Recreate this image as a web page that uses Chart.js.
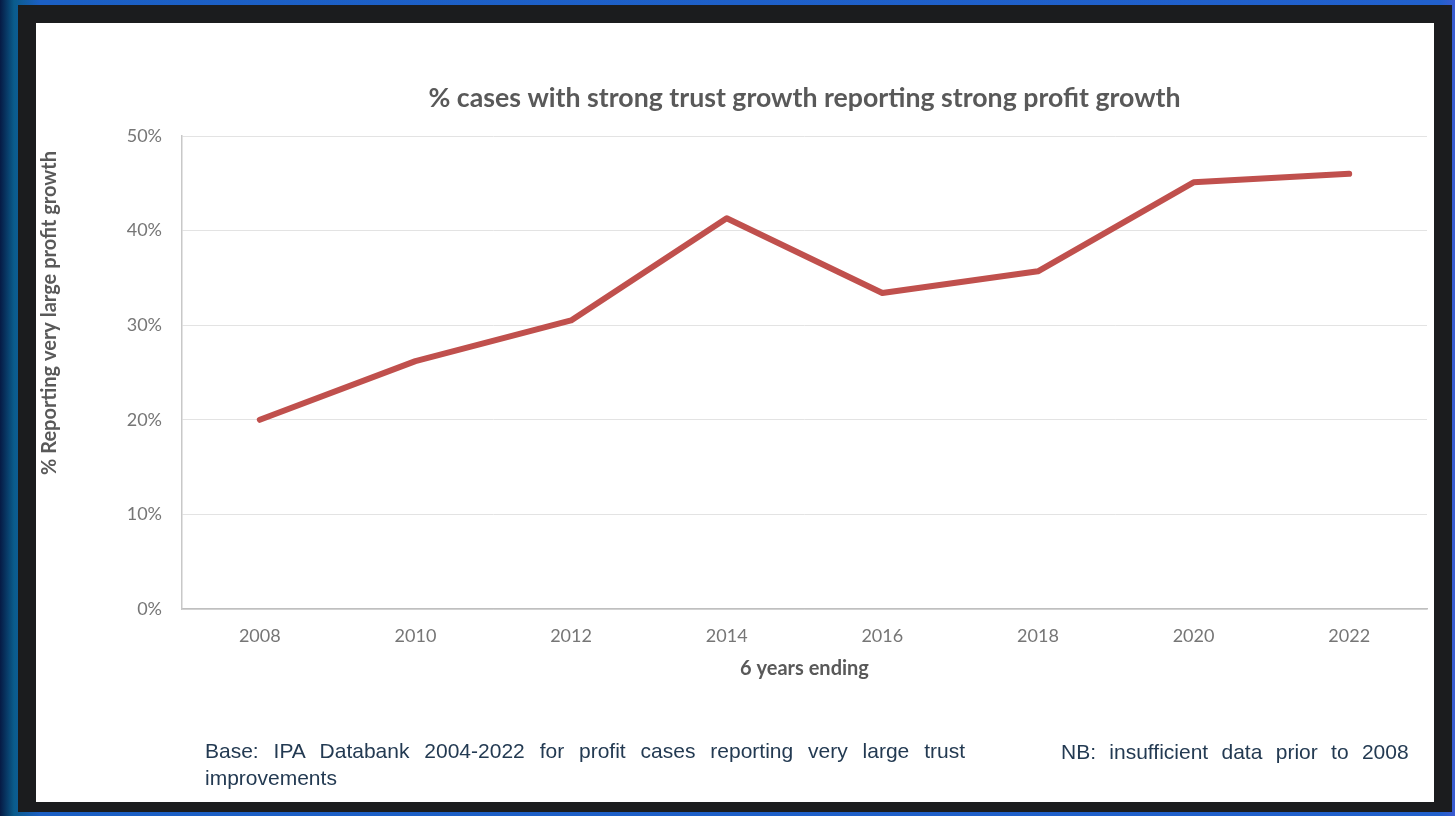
<!DOCTYPE html>
<html>
<head>
<meta charset="utf-8">
<script src="https://cdn.jsdelivr.net/npm/chart.js@4.4.0/dist/chart.umd.min.js"></script>
<style>
  html, body { margin: 0; padding: 0; }
  body {
    width: 1455px; height: 816px; overflow: hidden; position: relative;
    background: linear-gradient(to right, #061a44 0px, #0a5c8c 14px, #1b5fc4 40px, #2160cc 1440px, #3a5ad0 1455px);
  }
  #frame {
    position: absolute; left: 18px; top: 5px; width: 1434px; height: 807px;
    background: #1b1c1e;
  }
  #panel {
    position: absolute; left: 36px; top: 23px; width: 1398px; height: 779px;
    background: #ffffff;
  }
  #panel canvas { position: absolute; left: 0; top: 0; }
  .note {
    position: absolute; font-family: "Liberation Sans", Arial, sans-serif;
    font-size: 21px; color: #233a52; line-height: 27px; white-space: normal;
  }
  #base { left: 169px; top: 714px; width: 760px; text-align: justify; }
  #nb { left: 1025px; top: 715px; word-spacing: 7.5px; }
</style>
</head>
<body>
<div id="frame"></div>
<div id="panel">
  <canvas id="myChart" width="1398" height="779"></canvas>
  <div class="note" id="base">Base: IPA Databank 2004-2022 for profit cases reporting very large trust improvements</div>
  <div class="note" id="nb">NB: insufficient data prior to 2008</div>
</div>
<script>
var years = ['2008', '2010', '2012', '2014', '2016', '2018', '2020', '2022'];
var strongProfit = [20.0, 26.2, 30.5, 41.3, 33.4, 35.7, 45.1, 46.0];
var yTicks = [0, 10, 20, 30, 40, 50];

var chartTitle = '% cases with strong trust growth reporting strong profit growth';
var xTitle = '6 years ending';
var yTitle = '% Reporting very large profit growth';

// titles drawn by hand: the original centres them on the plot, not the canvas
var titlesPlugin = {
  id: 'titles',
  afterDraw: function (chart) {
    var c = chart.ctx;
    var a = chart.chartArea;
    var mid = (a.left + a.right) / 2;
    c.save();
    c.fillStyle = '#595959';
    c.textAlign = 'center';
    c.textBaseline = 'middle';
    c.font = 'bold 26.7px Lato';
    c.fillText(chartTitle, mid, 75);
    c.font = 'bold 20px Lato';
    c.fillText(xTitle, mid, 646);
    c.translate(14, 290);
    c.rotate(-Math.PI / 2);
    c.fillText(yTitle, 0, 0);
    c.restore();
  }
};

var ctx = document.getElementById('myChart');
var myChart = new Chart(ctx, {
  type: 'line',
  data: {
    labels: years,
    datasets: [{
      label: 'Strong profit growth',
      data: strongProfit,
      borderColor: '#c0504d',
      borderWidth: 6,
      borderCapStyle: 'round',
      borderJoinStyle: 'round',
      pointRadius: 0,
      fill: false,
      tension: 0
    }]
  },
  options: {
    responsive: false,
    animation: false,
    layout: { padding: { left: 0, right: 7, top: 113, bottom: 0 } },
    plugins: {
      legend: { display: false },
      tooltip: { enabled: false },
      title: { display: false }
    },
    scales: {
      x: {
        offset: true,
        afterFit: function (s) { s.height = 193; },
        grid: { display: false, drawTicks: false },
        border: { display: true, color: '#bfbfbf', width: 1.5 },
        ticks: { color: '#767676', font: { family: 'Lato', size: 18 }, padding: 16 }
      },
      y: {
        min: 0,
        max: 50,
        afterFit: function (s) { s.width = 146; },
        afterBuildTicks: function (s) { s.ticks = yTicks.map(function (v) { return { value: v }; }); },
        grid: { color: '#e3e3e3', lineWidth: 1, drawTicks: false },
        border: { display: true, color: '#c8c8c8', width: 1.5 },
        ticks: {
          color: '#767676', font: { family: 'Lato', size: 18 }, padding: 20,
          callback: function (v) { return v + '%'; }
        }
      }
    }
  },
  plugins: [titlesPlugin]
});
</script>
</body>
</html>
